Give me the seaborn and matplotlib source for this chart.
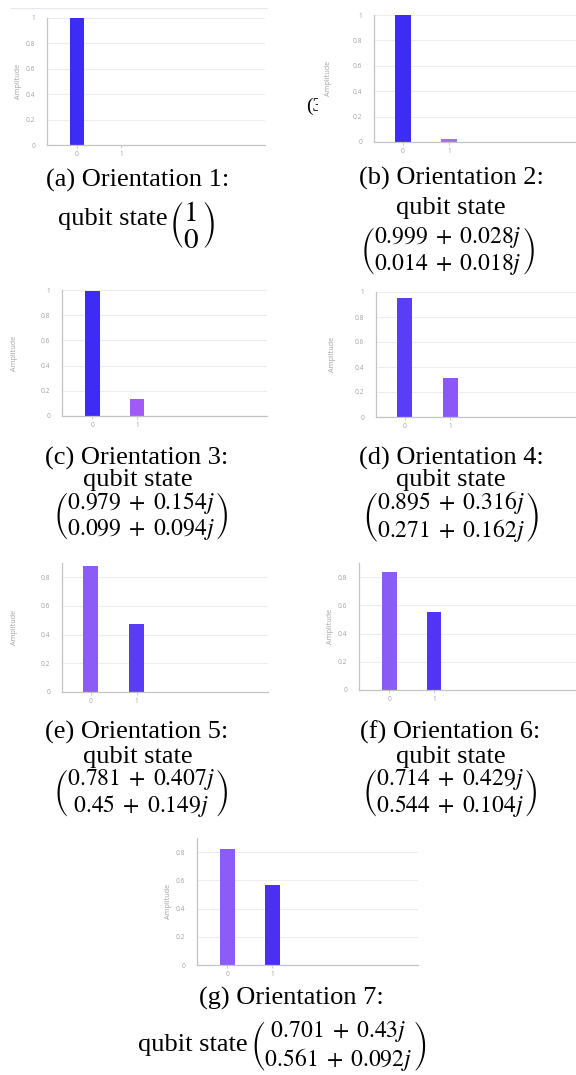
import matplotlib
matplotlib.use("Agg")
import matplotlib.pyplot as plt
from matplotlib.patches import Rectangle
from matplotlib.lines import Line2D
import seaborn as sns
import pandas as pd

sns.set_theme(style="white")
plt.rcParams['font.family'] = ['Liberation Serif', 'DejaVu Serif']
plt.rcParams['mathtext.fontset'] = 'stix'

# ---------------- data ----------------
basis_states = ["0", "1"]
amp_a = [1.000, 0.000]
amp_b = [0.999, 0.023]
amp_c = [0.991, 0.137]
amp_d = [0.949, 0.316]
amp_e = [0.881, 0.474]
amp_f = [0.833, 0.554]
amp_g = [0.822, 0.569]

captions = ["(a) Orientation 1:", "(b) Orientation 2:", "(c) Orientation 3:",
            "(d) Orientation 4:", "(e) Orientation 5:", "(f) Orientation 6:",
            "(g) Orientation 7:"]
state_top = ["1", "0.999 + 0.028j", "0.979 + 0.154j", "0.895 + 0.316j",
             "0.781 + 0.407j", "0.714 + 0.429j", "0.701 + 0.43j"]
state_bot = ["0", "0.014 + 0.018j", "0.099 + 0.094j", "0.271 + 0.162j",
             "0.45 + 0.149j", "0.544 + 0.104j", "0.561 + 0.092j"]

yticks_full = [0, 0.2, 0.4, 0.6, 0.8, 1.0]
yticks_short = [0, 0.2, 0.4, 0.6, 0.8]
ytick_labels_full = ["0", "0.2", "0.4", "0.6", "0.8", "1"]
ytick_labels_short = ["0", "0.2", "0.4", "0.6", "0.8"]

# ---------------- styling / layout ----------------
W, H = 576, 1075
BLUE = "#3d2cf4"
PURPLE = "#a65ef4"

panels = [
    dict(v=amp_a, c=[BLUE, PURPLE], box=(47, 265, 145, 18), ymax=1.0, xl=(-0.68, 4.27), lx=18),
    dict(v=amp_b, c=[BLUE, "#b068f2"], box=(374, 576, 142, 15), ymax=1.0, xl=(-0.63, 3.76), lx=328),
    dict(v=amp_c, c=[BLUE, "#a25af6"], box=(62, 267, 416, 290), ymax=1.0, xl=(-0.67, 3.89), lx=15),
    dict(v=amp_d, c=["#5a3ef5", "#8b58f7"], box=(376, 576, 417, 292), ymax=1.0, xl=(-0.64, 3.78), lx=332),
    dict(v=amp_e, c=["#8c5cf7", "#5b3cf6"], box=(62, 268, 692, 563), ymax=0.9, xl=(-0.63, 3.87), lx=15),
    dict(v=amp_f, c=["#8a5cf6", "#5234f5"], box=(359, 576, 690, 563), ymax=0.9, xl=(-0.67, 4.16), lx=330),
    dict(v=amp_g, c=["#8b5cf6", "#4b30f4"], box=(197, 418, 965, 838), ymax=0.9, xl=(-0.67, 4.24), lx=169),
]

fig = plt.figure(figsize=(W / 100, H / 100), dpi=100)
fig.patch.set_facecolor("white")

GRID = "#ededed"
AXC = "#c4c4c4"
TXT = "#a3a3a3"

for i, p in enumerate(panels):
    l, r, z, t = p["box"]
    ax = fig.add_axes([l / W, 1 - z / H, (r - l) / W, (z - t) / H])
    ax.set_zorder(3)
    df = pd.DataFrame({"state": basis_states, "amplitude": p["v"]})
    sns.barplot(data=df, x="state", y="amplitude", hue="state",
                palette=p["c"], width=0.33, ax=ax, legend=False,
                saturation=1.0, linewidth=0)
    ax.set_xlim(*p["xl"])
    ax.set_ylim(0, p["ymax"])
    if p["ymax"] >= 1.0:
        ax.set_yticks(yticks_full, ytick_labels_full)
    else:
        ax.set_yticks(yticks_short, ytick_labels_short)
    ax.set_xlabel("")
    ax.set_ylabel("Amplitude", fontsize=5.2, color=TXT, family="Open Sans")
    ax.yaxis.label.set_va("center")
    ax.yaxis.set_label_coords((p["lx"] - l) / (r - l), 0.5)
    for s in ["top", "right"]:
        ax.spines[s].set_visible(False)
    for s in ["left", "bottom"]:
        ax.spines[s].set_color(AXC)
        ax.spines[s].set_linewidth(0.9)
    ax.yaxis.grid(True, color=GRID, linewidth=0.8)
    ax.xaxis.grid(False)
    ax.set_axisbelow(True)
    ax.tick_params(axis="y", length=0, pad=8.5, labelsize=4.8, labelcolor=TXT)
    ax.tick_params(axis="x", length=2, width=0.6, color=AXC, pad=2,
                   labelsize=4.8, labelcolor=TXT, bottom=True)
    for lab in ax.get_xticklabels() + ax.get_yticklabels():
        lab.set_fontfamily("Open Sans")

# ---------------- captions ----------------
def ftext(x, y, s, size=19, ha="center", **kw):
    fig.text(x / W, 1 - y / H, s, ha=ha, va="center", fontsize=size,
             color="black", **kw)

def mexpr(s):
    return s.replace(" + ", r"\;+\;")

def mat(top, bot):
    return (r"$\genfrac{(}{)}{0}{0}{" + mexpr(top) + "}{" + mexpr(bot) + "}$")

MS = 17
# (a)
ftext(138, 180, captions[0])
ftext(58, 219, "qubit state", ha="left")
ftext(192, 224, mat(state_top[0], state_bot[0]), size=21)
# (b)
ftext(451, 178, captions[1])
ftext(451, 208, "qubit state")
ftext(448, 251, mat(state_top[1], state_bot[1]), size=MS)
# (c)
ftext(137, 458, captions[2])
ftext(138, 480, "qubit state")
ftext(141, 517, mat(state_top[2], state_bot[2]), size=MS)
# (d)
ftext(451, 458, captions[3])
ftext(451, 480, "qubit state")
ftext(451, 517, mat(state_top[3], state_bot[3]), size=MS)
# (e)
ftext(137, 732, captions[4])
ftext(138, 757, "qubit state")
ftext(141, 794, mat(state_top[4], state_bot[4]), size=MS)
# (f)
ftext(450, 732, captions[5])
ftext(451, 757, "qubit state")
ftext(450, 794, mat(state_top[5], state_bot[5]), size=MS)
# (g)
ftext(291, 998, captions[6])
ftext(138, 1045, "qubit state", ha="left")
ftext(338, 1046, mat(state_top[6], state_bot[6]), size=MS)

# stray fragment left of panel (b), partly covered by the chart screenshot
fig.text(306 / W, 1 - 106 / H, "(3", ha="left", va="center", fontsize=14,
         color="black", zorder=1)
fig.patches.append(Rectangle((318 / W, 1 - 135 / H), (374 - 318) / W, 60 / H,
                             transform=fig.transFigure, facecolor="white",
                             edgecolor="none", zorder=2))
# faint top border of screenshot (a)
fig.lines.append(Line2D([10 / W, 267 / W], [1 - 8 / H, 1 - 8 / H],
                        transform=fig.transFigure, color="#e6e8ef", linewidth=0.8))

fig.savefig("out.png", dpi=100, facecolor="white")
